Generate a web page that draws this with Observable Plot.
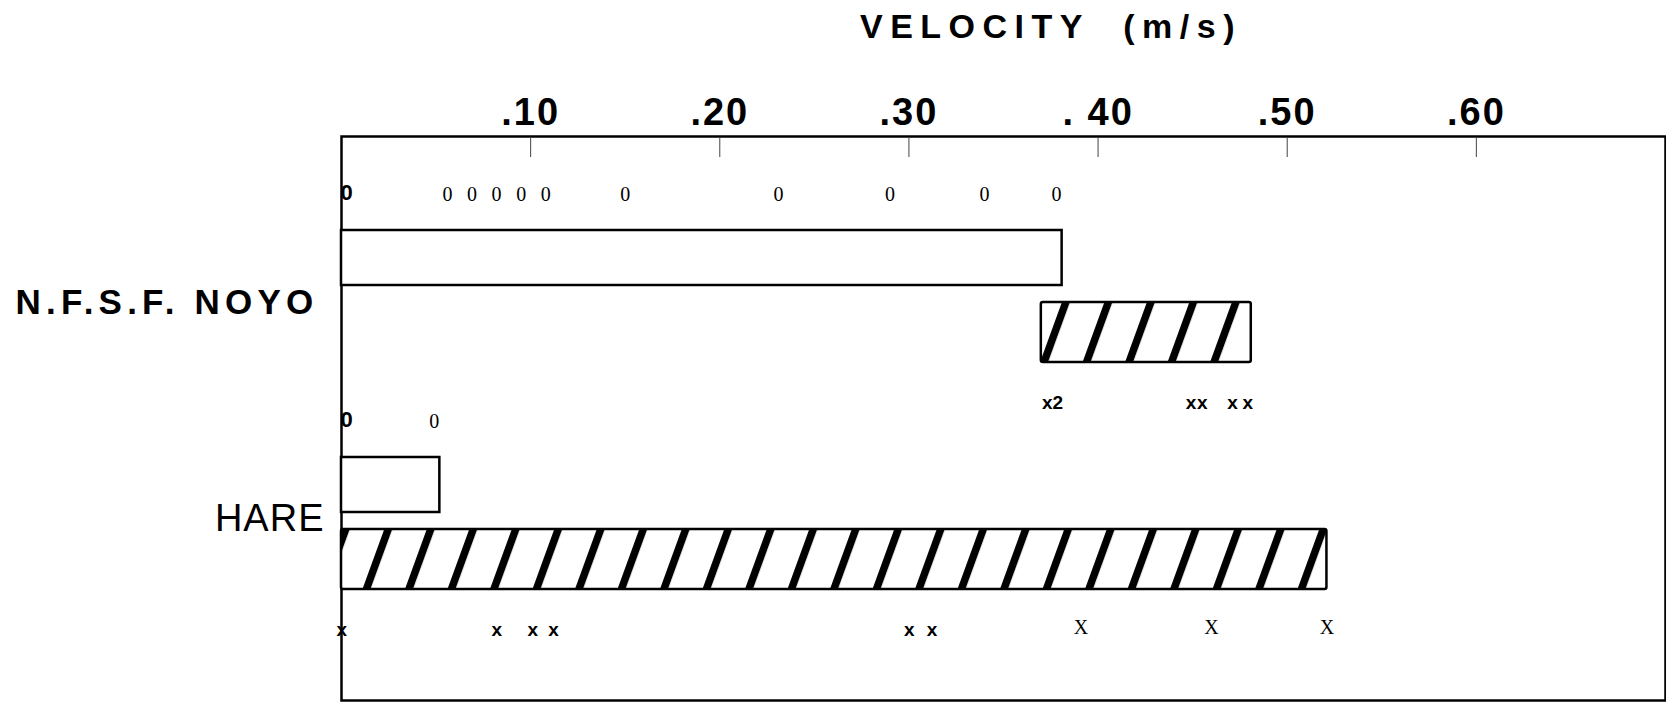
<!DOCTYPE html>
<html>
<head>
<meta charset="utf-8">
<script src="https://cdn.jsdelivr.net/npm/d3@7"></script>
<script src="https://cdn.jsdelivr.net/npm/@observablehq/plot@0.6"></script>
<style>
  html, body { margin: 0; padding: 0; background: #fff; }
  #title { height: 56px; position: relative; font-family: "Liberation Sans", Arial, sans-serif; font-weight: bold; font-size: 34px; letter-spacing: 7.5px; white-space: pre; color: #000; }
  #title span { position: absolute; left: 860px; top: 9px; line-height: 1; }
  #chart svg { display: block; }
  [aria-label="x-axis tick label"] text { letter-spacing: 2px; }
</style>
</head>
<body>
<div id="title"><span>VELOCITY  (m/s)</span></div>
<div id="chart"></div>
<script>
// ---- data ----
const sites = ["N.F.S.F. NOYO", "HARE"];
const tickValues = [0.1, 0.2, 0.3, 0.4, 0.5, 0.6];
const tickLabels = [".10", ".20", ".30", ". 40", ".50", ".60"];

// open bars (range of "0" observations) and hatched bars (range of "x" observations)
const openStart  = [0, 0];
const openEnd    = [0.381, 0.052];
const hatchStart = [0.370, 0];
const hatchEnd   = [0.481, 0.521];

// individual observations
const noyoO = [0, 0.056, 0.069, 0.082, 0.095, 0.108, 0.150, 0.231, 0.290, 0.340, 0.378];
const hareO = [0, 0.049];
const noyoX = [0.373, 0.373, 0.449, 0.455, 0.471, 0.479];
const hareX = [0, 0.082, 0.101, 0.112, 0.300, 0.312, 0.391, 0.460, 0.521];

// ---- tables built from the arrays ----
const openBars  = sites.map((s, i) => ({site: s, x1: openStart[i],  x2: openEnd[i]}));
const hatchBars = sites.map((s, i) => ({site: s, x1: hatchStart[i], x2: hatchEnd[i]}));
const oMarks = [
  ...noyoO.map(v => ({site: sites[0], v})),
  ...hareO.map(v => ({site: sites[1], v}))
];
const groupX = (arr, site) => d3.rollups(arr, g => g.length, d => d)
  .map(([v, n]) => ({site, v, label: n > 1 ? "x" + n : "x"}));
const xHand = [
  ...groupX(noyoX, sites[0]),
  ...groupX(hareX.slice(0, 6), sites[1])
];
const xTyped = hareX.slice(6).map(v => ({site: sites[1], v}));

const sans = "Liberation Sans, Arial, Helvetica, sans-serif";
const serif = "Liberation Serif, Times New Roman, serif";

const svg = Plot.plot({
  width: 1666,
  height: 646,
  marginLeft: 341,
  marginRight: 1,
  marginTop: 80,
  marginBottom: 2,
  style: {background: "#fff", color: "#000", overflow: "visible"},
  x: {domain: [0, 0.7], label: null},
  y: {domain: sites, axis: null, paddingInner: 0.42, paddingOuter: 0.449, align: 0.458, label: null},
  marks: [
    Plot.frame({stroke: "#000", strokeWidth: 2.5}),
    Plot.axisX(tickValues, {anchor: "top", tickSize: -20, tickFormat: () => "", stroke: "#444", strokeWidth: 1, label: null}),
    Plot.axisX(tickValues, {
      anchor: "top", tickSize: 0, tickPadding: 12, label: null,
      tickFormat: d => tickLabels[tickValues.indexOf(d)],
      fontSize: 38, fontWeight: "bold", fontFamily: sans
    }),
    Plot.barX(openBars, {y: "site", x1: "x1", x2: "x2", fill: "white", stroke: "#000", strokeWidth: 2.5, insetBottom: 77}),
    Plot.barX(hatchBars, {y: "site", x1: "x1", x2: "x2", fill: "url(#hatch)", stroke: "#000", strokeWidth: 2.5, insetTop: 72, rx: 2}),
    Plot.text(oMarks.filter(d => d.v > 0), {x: "v", y: "site", text: () => "0", dy: -102, fontFamily: serif, fontSize: 20}),
    Plot.text(oMarks.filter(d => d.v === 0), {x: "v", y: "site", text: () => "0", dx: 5, dy: -104, fontFamily: sans, fontWeight: "bold", fontSize: 22}),
    Plot.text(xHand, {x: "v", y: "site", text: "label", textAnchor: "start", dx: -5, dy: 106, fontFamily: sans, fontWeight: "bold", fontSize: 19}),
    Plot.text(xTyped, {x: "v", y: "site", text: () => "X", dy: 104, fontFamily: serif, fontSize: 20}),
    Plot.text([sites[0]], {y: d => d, text: d => d, frameAnchor: "left", textAnchor: "end", dx: -23, dy: 6, fontFamily: sans, fontWeight: "bold", fontSize: 35}),
    Plot.text([sites[1]], {y: d => d, text: d => d, frameAnchor: "left", textAnchor: "end", dx: -17, dy: -5, fontFamily: sans, fontSize: 38})
  ]
});

// hatch pattern for the hatched bars
const defs = d3.select(svg).insert("defs", ":first-child");
const pat = defs.append("pattern")
  .attr("id", "hatch")
  .attr("patternUnits", "userSpaceOnUse")
  .attr("width", 42.5)
  .attr("height", 60)
  .attr("patternTransform", "skewX(-20)");
pat.append("rect").attr("width", 42.5).attr("height", 60).attr("fill", "white");
pat.append("rect").attr("x", 4).attr("width", 8).attr("height", 60).attr("fill", "black");

// letter spacing on the site labels
d3.select(svg).selectAll("text")
  .filter(function() { return this.textContent === sites[0]; })
  .style("letter-spacing", "5.2px");
d3.select(svg).selectAll("text")
  .filter(function() { return this.textContent === sites[1]; })
  .style("letter-spacing", "1px");

document.getElementById("chart").appendChild(svg);
</script>
</body>
</html>
